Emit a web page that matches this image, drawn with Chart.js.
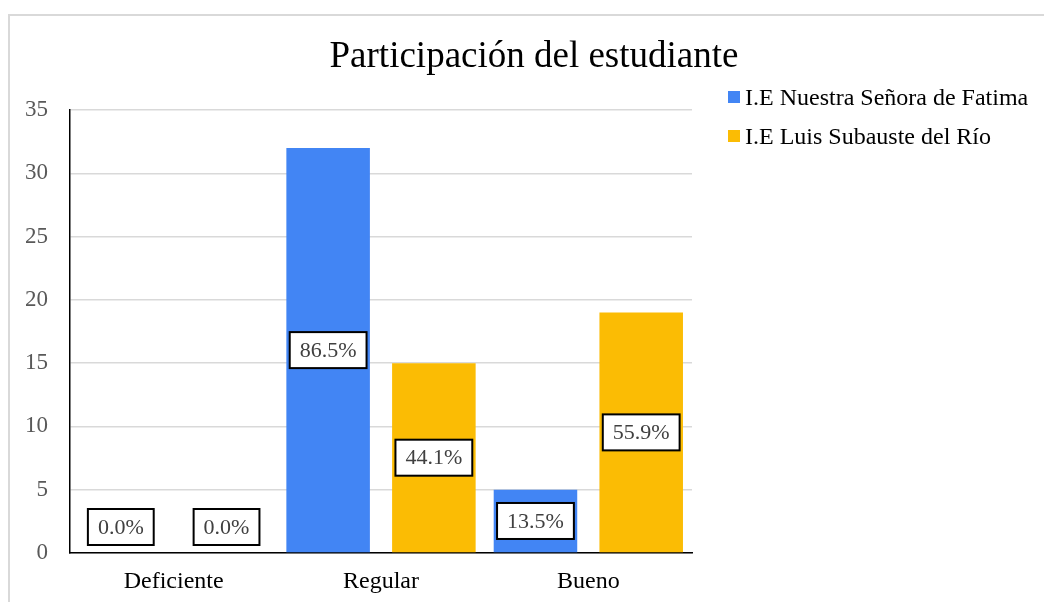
<!DOCTYPE html>
<html>
<head>
<meta charset="utf-8">
<script src="https://cdn.jsdelivr.net/npm/chart.js@4.4.1/dist/chart.umd.min.js"></script>
<style>
  html, body { margin: 0; padding: 0; background: #fff; }
  #wrap { width: 1044px; height: 602px; }
</style>
</head>
<body>
<div id="wrap"><canvas id="chart"></canvas></div>
<script>
// Chart data
const categories = ['Deficiente', 'Regular', 'Bueno'];
const seriesNames = ['I.E Nuestra Señora de Fatima', 'I.E Luis Subauste del Río'];
const fatimaCounts = [0, 32, 5];
const luisCounts = [0, 15, 19];
const fatimaPct = ['0.0%', '86.5%', '13.5%'];
const luisPct = ['0.0%', '44.1%', '55.9%'];
const colors = ['#4285F4', '#FBBC04'];

const SERIF = '"Liberation Serif", "Times New Roman", serif';

// Frame + title + legend drawn on the canvas
const decorPlugin = {
    id: 'decor',
    beforeDraw(chart) {
        const ctx = chart.ctx;
        ctx.save();
        ctx.strokeStyle = '#d9d9d9';
        ctx.lineWidth = 2;
        ctx.strokeRect(9, 15, 1200, 800);
        ctx.restore();
    },
    afterDraw(chart) {
        const ctx = chart.ctx;
        ctx.save();
        ctx.fillStyle = '#000';
        ctx.font = '37px ' + SERIF;
        ctx.textAlign = 'center';
        ctx.textBaseline = 'alphabetic';
        ctx.fillText('Participación del estudiante', 534, 67);

        // legend
        ctx.font = '24px ' + SERIF;
        ctx.textAlign = 'left';
        chart.data.datasets.forEach((ds, i) => {
            const y = 97 + i * 39;
            ctx.fillStyle = ds.backgroundColor;
            ctx.fillRect(728, y - 6, 12, 12);
            ctx.fillStyle = '#000';
            ctx.fillText(ds.label, 745, y + 8);
        });
        ctx.restore();
    }
};

// Boxed percentage labels inside the bars
const pctLabels = {
    id: 'pctLabels',
    afterDatasetsDraw(chart) {
        const ctx = chart.ctx;
        ctx.save();
        ctx.font = '22px ' + SERIF;
        ctx.textAlign = 'center';
        ctx.textBaseline = 'middle';
        chart.data.datasets.forEach((ds, di) => {
            const meta = chart.getDatasetMeta(di);
            meta.data.forEach((bar, i) => {
                const text = ds.pct[i];
                let cy = (bar.y + bar.base) / 2;
                if (ds.data[i] === 0) cy = bar.base - 26;
                const w = ctx.measureText(text).width + 20;
                const h = 36;
                ctx.fillStyle = '#fff';
                ctx.fillRect(bar.x - w / 2, cy - h / 2, w, h);
                ctx.strokeStyle = '#000';
                ctx.lineWidth = 2;
                ctx.strokeRect(bar.x - w / 2, cy - h / 2, w, h);
                ctx.fillStyle = '#404040';
                ctx.fillText(text, bar.x, cy + 1);
            });
        });
        ctx.restore();
    }
};

new Chart(document.getElementById('chart').getContext('2d'), {
    type: 'bar',
    data: {
        labels: categories,
        datasets: [
            { label: seriesNames[0], data: fatimaCounts, pct: fatimaPct, backgroundColor: colors[0] },
            { label: seriesNames[1], data: luisCounts, pct: luisPct, backgroundColor: colors[1] }
        ]
    },
    options: {
        responsive: true,
        maintainAspectRatio: false,
        animation: false,
        layout: { padding: { left: 8, top: 110, right: 352, bottom: 0 } },
        datasets: { bar: { categoryPercentage: 1.02, barPercentage: 0.79 } },
        plugins: {
            legend: { display: false },
            title: { display: false },
            tooltip: { enabled: false }
        },
        scales: {
            x: {
                grid: { display: false, drawTicks: false },
                border: { color: '#000', width: 1.5 },
                ticks: { color: '#000', font: { family: SERIF, size: 24 }, padding: 14 },
                afterFit: s => { s.height = 49; }
            },
            y: {
                min: 0,
                max: 35,
                ticks: { stepSize: 5, color: '#595959', font: { family: SERIF, size: 23 }, padding: 22 },
                grid: { color: '#d9d9d9', lineWidth: 1.5, drawTicks: false },
                border: { color: '#000', width: 1.5 },
                afterFit: s => { s.width = 62; }
            }
        }
    },
    plugins: [decorPlugin, pctLabels]
});
</script>
</body>
</html>
